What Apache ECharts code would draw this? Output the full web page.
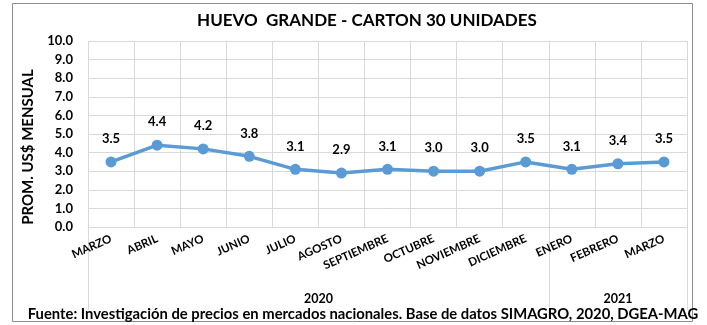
<!DOCTYPE html>
<html>
<head>
<meta charset="utf-8">
<script src="https://cdn.jsdelivr.net/npm/echarts@6/dist/echarts.min.js"></script>
<style>
  html, body { margin: 0; padding: 0; background: #fff; }
  #chart { width: 707px; height: 325px; }
</style>
</head>
<body>
<div id="chart"></div>
<script>
// Monthly average price, large eggs (carton of 30), US$
const months = ['MARZO', 'ABRIL', 'MAYO', 'JUNIO', 'JULIO', 'AGOSTO', 'SEPTIEMBRE',
  'OCTUBRE', 'NOVIEMBRE', 'DICIEMBRE', 'ENERO', 'FEBRERO', 'MARZO'];
const prices = [3.5, 4.4, 4.2, 3.8, 3.1, 2.9, 3.1, 3.0, 3.0, 3.5, 3.1, 3.4, 3.5];
// Year groups: label and number of months in each
const years = ['2020', '2021'];
const yearSpans = [10, 3];

const FONT = 'Lato, "Liberation Sans", sans-serif';
const chart = echarts.init(document.getElementById('chart'));

const option = {
  animation: false,
  backgroundColor: '#ffffff',
  title: {
    text: 'HUEVO  GRANDE - CARTON 30 UNIDADES',
    left: 362, top: 7, textAlign: 'center',
    textStyle: { fontFamily: FONT, fontWeight: 'bold', fontSize: 17, color: '#000' }
  },
  grid: { left: 88, right: 20, top: 41, bottom: 98, containLabel: false },
  xAxis: {
    type: 'category',
    data: months,
    boundaryGap: true,
    axisLine: { show: true, lineStyle: { color: '#d9d9d9', width: 1 } },
    axisTick: { show: false },
    splitLine: { show: true, lineStyle: { color: '#d9d9d9', width: 1 } },
    axisLabel: {
      interval: 0, rotate: 24, margin: 11,
      fontFamily: FONT, fontWeight: 'bold', fontSize: 11.5, color: '#000'
    }
  },
  yAxis: {
    type: 'value',
    min: 0, max: 10, interval: 1,
    axisLine: { show: false },
    axisTick: { show: false },
    splitLine: { show: true, lineStyle: { color: '#d9d9d9', width: 1 } },
    axisLabel: {
      margin: 15,
      formatter: v => v.toFixed(1),
      fontFamily: FONT, fontWeight: 'bold', fontSize: 13, color: '#000'
    }
  },
  series: [{
    type: 'line',
    data: prices,
    symbol: 'circle',
    symbolSize: 11,
    lineStyle: { color: '#5b9bd5', width: 3.5 },
    itemStyle: { color: '#5b9bd5' },
    label: {
      show: true, position: 'top', distance: 11,
      formatter: p => p.value.toFixed(1),
      fontFamily: FONT, fontWeight: 'bold', fontSize: 13, color: '#000'
    }
  }]
};
chart.setOption(option);

// Outer frame, axis title, year group separators and labels, source note
function drawExtras() {
  const gfx = [];
  gfx.push({
    type: 'rect', shape: { x: 12.5, y: 3.5, width: 680, height: 318 },
    style: { fill: 'none', stroke: '#8c8c8c', lineWidth: 1 }, silent: true, z: 0
  });
  gfx.push({
    type: 'text', x: 28, y: 147, rotation: Math.PI / 2,
    style: { text: 'PROM. US$ MENSUAL', fontFamily: FONT, fontWeight: 'bold', fontSize: 15,
      fill: '#000', align: 'center', verticalAlign: 'middle' }
  });
  const y0 = chart.convertToPixel({ yAxisIndex: 0 }, 0);
  const xAt = i => chart.convertToPixel({ xAxisIndex: 0 }, i);
  const half = (xAt(1) - xAt(0)) / 2;
  let start = 0;
  const bounds = [xAt(0) - half];
  years.forEach((yr, k) => {
    const end = start + yearSpans[k];
    const xr = xAt(end - 1) + half;
    bounds.push(xr);
    const xl = xAt(start) - half;
    gfx.push({
      type: 'text', x: (xl + xr) / 2, y: y0 + 72,
      style: { text: yr, fontFamily: FONT, fontWeight: 'bold', fontSize: 12.5, fill: '#000',
        align: 'center', verticalAlign: 'middle' }
    });
    start = end;
  });
  bounds.forEach(bx => {
    gfx.push({
      type: 'line', shape: { x1: Math.round(bx) + 0.5, y1: y0, x2: Math.round(bx) + 0.5, y2: y0 + 83 },
      style: { stroke: '#d9d9d9', lineWidth: 1 }, silent: true
    });
  });
  gfx.push({
    type: 'text', x: 363, y: 314,
    style: {
      text: 'Fuente: Investigación de precios en mercados nacionales. Base de datos SIMAGRO, 2020, DGEA-MAG',
      fontFamily: FONT, fontWeight: 'bold', fontSize: 14.8, fill: '#000',
      align: 'center', verticalAlign: 'middle'
    }
  });
  chart.setOption({ graphic: gfx });
}
drawExtras();
</script>
</body>
</html>
